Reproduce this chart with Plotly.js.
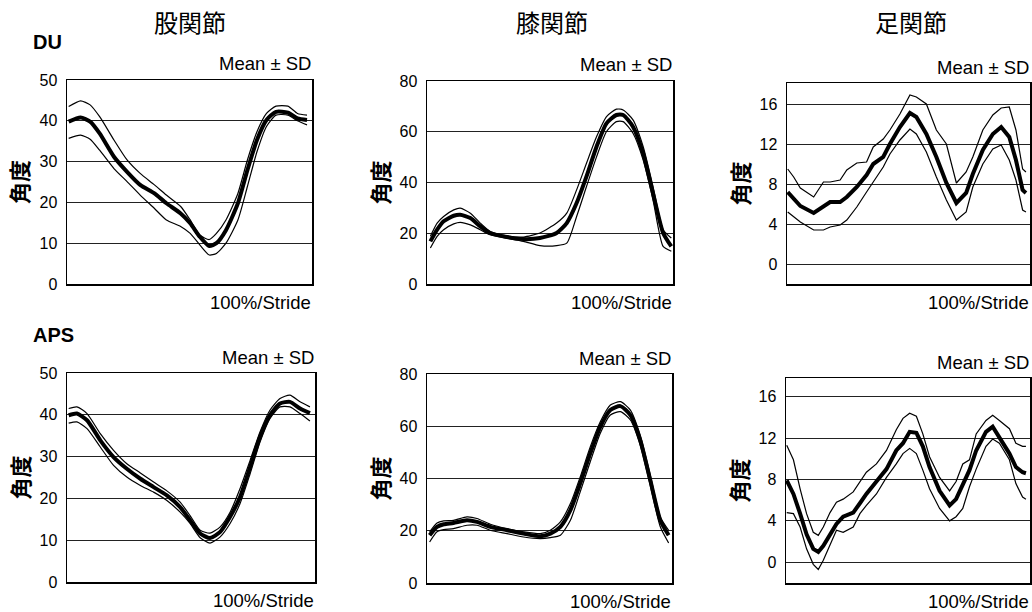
<!DOCTYPE html>
<html>
<head>
<meta charset="utf-8">
<script src="https://cdn.plot.ly/plotly-3.0.1.min.js"></script>
<style>html,body{margin:0;padding:0;background:#fff;}#chart{width:1032px;height:612px;}</style>
</head>
<body>
<div id="chart"></div>
<script>
// ---------------- DATA (x = % of stride, y = angle in degrees) ----------------
const columnTitles = ["股関節", "膝関節", "足関節"];
const rowTitles = ["DU", "APS"];
const yTitle = "角度";
const legendText = "Mean ± SD";
const xLabel = "100%/Stride";

// DU – hip
const hipDU_x    = [0, 5, 9, 13, 19, 24.5, 30, 36, 41, 47, 51, 55, 59, 62, 66, 71, 75, 79, 83, 87, 92, 96, 100];
const hipDU_mean = [39.8, 40.8, 39.8, 36.9, 31.2, 27.5, 24.3, 22.2, 19.8, 17.3, 14.9, 11.6, 9.3, 10.0, 13.2, 19.8, 27.9, 35.3, 40.2, 42.2, 42.0, 40.6, 40.2];
const hipDU_up   = [43.5, 44.9, 43.9, 41.0, 35.3, 30.4, 27.1, 24.3, 21.8, 19.0, 15.7, 12.0, 10.9, 12.4, 15.7, 22.2, 30.4, 37.3, 41.8, 43.6, 43.6, 41.8, 41.4];
const hipDU_lo   = [35.7, 36.5, 35.5, 32.8, 28.3, 25.1, 21.8, 18.5, 15.7, 14.1, 12.4, 9.6, 7.1, 7.5, 10.0, 15.7, 23.9, 32.4, 38.6, 41.4, 41.4, 40.0, 39.0];

// DU – knee
const kneeDU_x    = [0, 2.8, 5.5, 9.7, 12.4, 16.6, 20.7, 24.8, 31.7, 38.6, 45.5, 52.4, 56.6, 60.7, 64.8, 69, 73.1, 77.2, 80, 84.1, 88.3, 92.4, 96.6, 100];
const kneeDU_mean = [16.8, 21.4, 24.7, 26.9, 27.3, 26.0, 22.7, 20.1, 18.5, 17.7, 18.1, 20.1, 24.0, 31.9, 42.4, 54.2, 63.3, 66.6, 66.6, 62.0, 51.5, 35.8, 20.1, 14.8];
const kneeDU_up   = [18.8, 24.0, 26.6, 29.2, 29.9, 27.9, 24.0, 20.7, 19.0, 18.5, 20.1, 24.0, 27.9, 37.1, 47.6, 58.1, 66.0, 68.9, 68.6, 64.7, 54.2, 38.4, 21.4, 18.1];
const kneeDU_lo   = [14.2, 18.8, 21.4, 23.7, 24.3, 23.3, 21.4, 19.4, 18.1, 16.8, 15.1, 15.1, 16.1, 26.6, 38.4, 50.2, 60.1, 64.0, 64.0, 59.4, 48.9, 33.2, 14.8, 12.9];

// DU – ankle
const ankleDU_x    = [0, 2.5, 5.3, 10.9, 15.0, 17.8, 22.0, 24.8, 29.0, 33.1, 35.9, 40.1, 42.9, 47.1, 51.3, 54.0, 58.2, 62.4, 66.6, 70.8, 74.9, 77.7, 81.9, 86.1, 89.6, 93.0, 95.8, 98.6, 100];
const ankleDU_mean = [7.2, 6.6, 5.8, 5.1, 5.7, 6.2, 6.2, 6.7, 7.7, 8.9, 10.0, 10.7, 12.0, 13.7, 15.1, 14.7, 13.0, 10.7, 8.1, 6.1, 7.1, 9.0, 11.4, 13.0, 13.7, 12.7, 10.4, 7.4, 7.1];
const ankleDU_up   = [9.5, 8.7, 7.6, 6.7, 8.2, 8.2, 8.4, 9.4, 10.1, 10.2, 11.7, 12.5, 13.4, 15.0, 16.9, 16.7, 16.0, 13.4, 12.0, 8.1, 9.2, 10.7, 13.4, 14.9, 15.6, 15.7, 13.4, 9.5, 9.2];
const ankleDU_lo   = [5.2, 4.7, 4.2, 3.4, 3.4, 3.7, 3.9, 4.4, 5.7, 7.2, 8.2, 9.7, 11.0, 12.4, 13.5, 13.0, 11.2, 8.7, 6.4, 4.4, 5.2, 7.7, 10.0, 11.5, 11.9, 10.4, 8.4, 5.4, 5.2];

// APS – hip
const hipAPS_x    = [0, 3.4, 7.6, 13.1, 18.6, 24.1, 29.7, 35.2, 40.7, 46.2, 50.3, 54.5, 58.6, 62.8, 66.9, 71, 75.2, 79.3, 83.4, 87.6, 91.7, 95.9, 100];
const hipAPS_mean = [39.9, 40.3, 38.7, 33.9, 29.9, 27.1, 24.7, 22.7, 20.7, 17.9, 14.8, 11.6, 10.5, 12.0, 15.6, 20.3, 27.5, 34.7, 39.9, 42.7, 43.1, 41.5, 40.4];
const hipAPS_up   = [41.5, 41.9, 40.3, 35.5, 31.5, 28.3, 26.1, 23.9, 21.8, 19.1, 15.9, 12.4, 11.7, 13.2, 16.7, 22.3, 29.1, 35.9, 41.1, 43.9, 44.7, 43.1, 41.9];
const hipAPS_lo   = [38.0, 38.3, 36.7, 32.3, 27.9, 25.1, 23.1, 21.5, 19.5, 16.7, 14.0, 10.6, 9.3, 10.8, 14.0, 18.7, 25.9, 33.5, 39.1, 41.9, 41.9, 40.3, 38.5];

// APS – knee
const kneeAPS_x    = [0, 3.1, 5.9, 10, 15.6, 19.8, 25.4, 32.4, 39.3, 46.3, 50.5, 54.7, 58.9, 63, 67.2, 71.4, 75.6, 79.8, 84, 88.1, 92.3, 96.5, 100];
const kneeAPS_mean = [18.3, 21.5, 22.5, 23.0, 24.0, 23.4, 21.5, 20.2, 18.9, 17.9, 18.9, 21.5, 27.9, 38.1, 49.6, 59.8, 66.2, 67.7, 64.3, 54.7, 39.4, 24.0, 18.3];
const kneeAPS_up   = [19.6, 23.0, 23.8, 24.0, 25.3, 24.7, 22.5, 20.8, 19.6, 18.9, 20.2, 23.4, 30.4, 40.6, 52.1, 61.7, 68.1, 69.4, 66.2, 56.6, 41.3, 25.3, 20.2];
const kneeAPS_lo   = [15.7, 19.6, 20.4, 20.8, 22.1, 22.1, 20.2, 18.9, 17.6, 17.0, 17.4, 18.3, 24.0, 34.9, 46.4, 57.3, 64.3, 65.6, 62.4, 52.8, 37.4, 21.5, 15.3];

// APS – ankle
const ankleAPS_x    = [0, 2.8, 5.6, 8.3, 11.1, 13.2, 15.3, 18.1, 20.8, 23.6, 27.8, 30.6, 33.3, 37.5, 41.7, 45.8, 48.6, 51.4, 54.2, 56.9, 59.7, 63.9, 68.1, 70.8, 73.6, 76.4, 79.2, 83.3, 86.1, 88.9, 93.1, 95.8, 98.6, 100];
const ankleAPS_mean = [7.9, 6.6, 4.7, 2.7, 1.3, 1.0, 1.6, 2.7, 3.7, 4.4, 4.8, 5.7, 6.6, 7.8, 9.0, 10.8, 11.5, 12.6, 12.5, 11.2, 9.2, 6.9, 5.5, 6.1, 7.4, 8.9, 10.8, 12.6, 13.1, 12.1, 10.5, 9.2, 8.7, 8.6];
const ankleAPS_up   = [11.3, 9.9, 7.1, 4.7, 2.9, 2.6, 3.4, 4.8, 5.8, 6.1, 6.8, 7.8, 8.7, 9.5, 10.8, 12.8, 13.9, 14.4, 14.1, 12.4, 10.2, 8.2, 6.9, 7.8, 9.5, 9.9, 12.4, 13.7, 14.2, 13.7, 12.9, 11.5, 11.2, 11.2];
const ankleAPS_lo   = [4.8, 4.7, 3.4, 1.3, -0.2, -0.7, 0.2, 1.6, 3.1, 2.9, 3.4, 4.7, 5.5, 6.6, 8.2, 9.5, 10.5, 11.0, 10.5, 8.9, 7.1, 5.2, 4.0, 4.4, 5.2, 7.3, 9.0, 11.2, 11.9, 11.5, 9.9, 7.6, 6.3, 6.1];

const hipTicks = [0, 10, 20, 30, 40, 50];
const kneeTicks = [0, 20, 40, 60, 80];
const ankleTicks = [0, 4, 8, 12, 16];

// ---------------- LAYOUT CONFIG ----------------
const W = 1032, H = 612;
const FONT = "'Liberation Sans', Arial, 'Noto Sans CJK JP', sans-serif";
const CJK = "'Noto Sans CJK JP', 'Noto Sans CJK SC', sans-serif";

const panels = [
  {x: hipDU_x,   m: hipDU_mean,   u: hipDU_up,   l: hipDU_lo,   ticks: hipTicks,   xr: [-0.7, 102.1], yr: [0, 50],    box: [67, 80, 312, 284],  shape: 'spline'},
  {x: kneeDU_x,  m: kneeDU_mean,  u: kneeDU_up,  l: kneeDU_lo,  ticks: kneeTicks,  xr: [-1.4, 100.7], yr: [0, 80],    box: [427, 81, 673, 284], shape: 'spline'},
  {x: ankleDU_x, m: ankleDU_mean, u: ankleDU_up, l: ankleDU_lo, ticks: ankleTicks, xr: [-0.3, 101.7], yr: [-2, 18.1], box: [787, 83, 1030, 284], shape: 'linear'},
  {x: hipAPS_x,  m: hipAPS_mean,  u: hipAPS_up,  l: hipAPS_lo,  ticks: hipTicks,   xr: [-0.7, 102.1], yr: [0, 50],    box: [67, 373, 315, 582], shape: 'spline'},
  {x: kneeAPS_x, m: kneeAPS_mean, u: kneeAPS_up, l: kneeAPS_lo, ticks: kneeTicks,  xr: [-1.1, 101.4], yr: [0, 80],    box: [427, 374, 672, 583], shape: 'spline'},
  {x: ankleAPS_x,m: ankleAPS_mean,u: ankleAPS_up,l: ankleAPS_lo,ticks: ankleTicks, xr: [-0.3, 101.7], yr: [-2, 17.8], box: [786, 378, 1030, 583], shape: 'linear'}
];

const traces = [];
const layout = {
  width: W, height: H,
  margin: {l: 0, r: 0, t: 0, b: 0},
  paper_bgcolor: '#fff', plot_bgcolor: '#fff',
  showlegend: false,
  font: {family: FONT, color: '#000', size: 16},
  annotations: []
};

panels.forEach((p, i) => {
  const n = i === 0 ? '' : String(i + 1);
  const xa = 'x' + n, ya = 'y' + n;
  [[p.u, 1.2], [p.l, 1.2], [p.m, 4]].forEach(([ys, w]) => {
    traces.push({
      type: 'scatter', mode: 'lines', x: p.x, y: ys, xaxis: xa, yaxis: ya,
      line: {color: '#000', width: w, shape: p.shape, smoothing: 0.6},
      hoverinfo: 'skip'
    });
  });
  const [L, T, R, B] = p.box;
  layout['xaxis' + n] = {
    domain: [L / W, R / W], range: p.xr, anchor: ya,
    showgrid: false, zeroline: false, showticklabels: false, ticks: '',
    showline: true, mirror: true, linecolor: '#000', linewidth: 1.5, fixedrange: true
  };
  layout['yaxis' + n] = {
    domain: [1 - B / H, 1 - T / H], range: p.yr, anchor: xa,
    tickvals: p.ticks, ticktext: p.ticks.map(String), ticks: '', ticklabelstandoff: 5,
    showgrid: true, gridcolor: '#222', gridwidth: 1, zeroline: false,
    showline: true, mirror: true, linecolor: '#000', linewidth: 1.5,
    tickfont: {family: FONT, size: 16, color: '#000'}, fixedrange: true
  };

  const ann = (text, px, py, xanchor, opts) => layout.annotations.push(Object.assign({
    text: text, xref: 'paper', yref: 'paper', x: px / W, y: 1 - py / H,
    xanchor: xanchor, yanchor: 'middle', showarrow: false,
    font: {family: FONT, size: 18.5, color: '#000'}
  }, opts || {}));

  ann(legendText, R + 1, (T - 16), 'right');
  ann(xLabel, R + 1, B + 18, 'right');
  ann('<b>' + yTitle + '</b>', L - 49, (T + B) / 2, 'center',
      {textangle: -90, font: {family: CJK, size: 22, color: '#000'}});
});

// Column titles
const colCenters = [190, 552, 911];
columnTitles.forEach((t, k) => {
  layout.annotations.push({text: t, xref: 'paper', yref: 'paper', x: colCenters[k] / W, y: 1 - 22 / H,
    xanchor: 'center', yanchor: 'middle', showarrow: false,
    font: {family: CJK, size: 24, color: '#000'}});
});
// Row titles
const rowY = [42, 335];
rowTitles.forEach((t, k) => {
  layout.annotations.push({text: '<b>' + t + '</b>', xref: 'paper', yref: 'paper', x: 31 / W, y: 1 - rowY[k] / H,
    xanchor: 'left', yanchor: 'middle', showarrow: false,
    font: {family: FONT, size: 20, color: '#000'}});
});

Plotly.newPlot('chart', traces, layout, {staticPlot: true, displayModeBar: false});
</script>
</body>
</html>
